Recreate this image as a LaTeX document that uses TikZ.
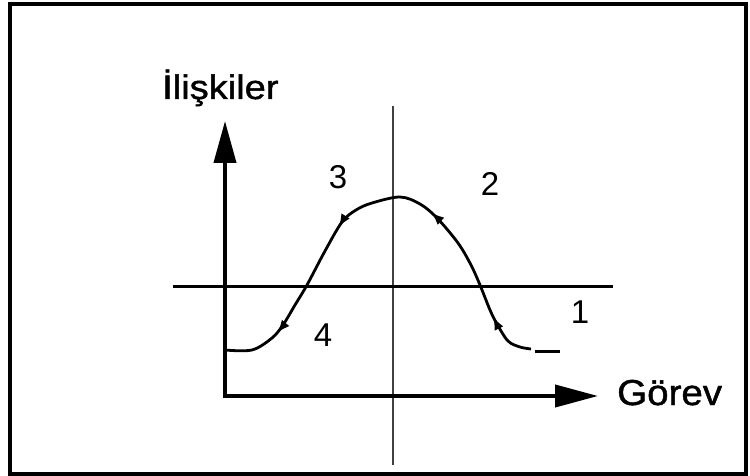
\documentclass[tikz,border=0pt]{standalone}
\usepackage{fontspec}
\setmainfont{Liberation Sans}
\newfontfamily\heavyfont[FakeBold=1.2]{Liberation Sans}
\usetikzlibrary{decorations.markings,arrows.meta}
\begin{document}
\begin{tikzpicture}[x=1pt,y=-1pt,
  frame/.style={line width=4pt},
  axisline/.style={line width=4pt,{Triangle[length=42pt,width=22pt]}-{Triangle[length=43pt,width=22pt]}},
  refline/.style={line width=3pt},
  midline/.style={line width=1.6pt,black!75},
  curveline/.style={line width=2.8pt,line join=round},
  lbl/.style={inner sep=0pt,font=\fontsize{33}{36}\selectfont},
  axlbl/.style={inner sep=0pt,font=\heavyfont\fontsize{34}{38}\selectfont}
]
\useasboundingbox (0,0) rectangle (750,476);
\draw[frame] (10,4) rectangle (746,474);

% reference lines
\coordinate (vt) at (393,106);
\coordinate (vb) at (393,465);
\draw[midline] (vt) -- (vb);
\coordinate (hl) at (173,286);
\coordinate (hr) at (613,286);
\draw[refline] (hl) -- (hr);

% axes
\coordinate (O) at (225,396);
\coordinate (ytip) at (225,121);
\coordinate (xtip) at (598,396);
\draw[axisline] (ytip) -- (O) -- (xtip);

% curve
\draw[curveline,postaction={decorate,decoration={markings,
    mark=at position 0.125 with {\arrowreversed{Latex[length=13pt,width=10pt]}},
    mark=at position 0.39 with {\arrowreversed{Latex[length=13pt,width=10pt]}},
    mark=at position 0.62 with {\arrowreversed{Latex[length=13pt,width=10pt]}},
    mark=at position 0.885 with {\arrowreversed{Latex[length=13pt,width=10pt]}}}}]
  plot[smooth,tension=0.55] coordinates {(225,350) (252,350) (272,338) (283,325) (295,305) (307,285) (325,251) (342,222) (356,210) (372,203) (400,197) (420,204) (437,218) (458,243) (471,265) (480,285) (490,310) (497,324) (508,341) (520,347) (531,349)};
\coordinate (ts) at (535,351);
\coordinate (te) at (560,351);
\draw[refline] (ts) -- (te);

% labels
\node[axlbl,anchor=base west] (ylab) at (162,99) {\scalebox{1.12}[1]{İlişkiler}};
\node[axlbl,anchor=base west] (xlab) at (617,405) {\fontsize{36}{40}\selectfont\scalebox{1.07}[1]{Görev}};
\node[lbl] (n3) at (338,177) {3};
\node[lbl] (n2) at (490,184) {2};
\node[lbl] (n1) at (580,312) {1};
\node[lbl] (n4) at (323,335) {4};
\end{tikzpicture}
\end{document}
